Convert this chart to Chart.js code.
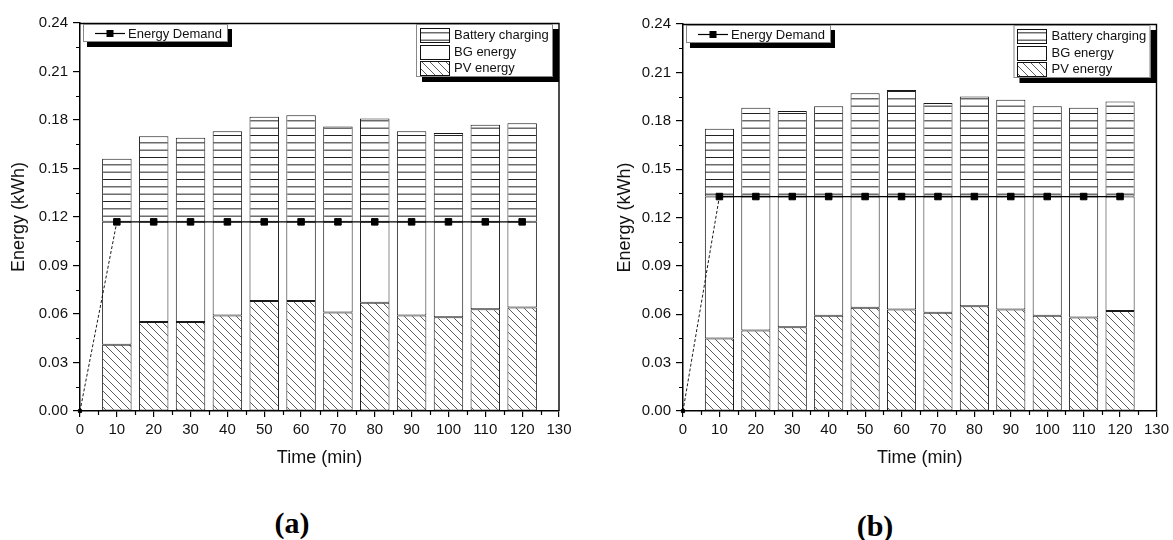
<!DOCTYPE html>
<html>
<head>
<meta charset="utf-8">
<script src="https://cdn.jsdelivr.net/npm/chart.js@4.4.1/dist/chart.umd.min.js"></script>
<style>
  html, body { margin: 0; padding: 0; background: #fff; width: 1173px; height: 540px; overflow: hidden; }
  .panel { position: absolute; top: 0; }
  #wrapA { left: 0; width: 580px; height: 480px; }
  #wrapB { left: 600px; width: 573px; height: 480px; }
  .tag { position: absolute; font: bold 30px "Liberation Serif", "Times New Roman", serif; color: #000;
         transform: translate(-50%, -50%); white-space: nowrap; }
</style>
</head>
<body>
<div class="panel" id="wrapA"><canvas id="chartA" width="580" height="480"></canvas></div>
<div class="panel" id="wrapB"><canvas id="chartB" width="573" height="480"></canvas></div>
<div class="tag" style="left:292px; top:523px;">(a)</div>
<div class="tag" style="left:875px; top:526px;">(b)</div>

<script>
// ---- data (time in min, energy in kWh) ----
const times = [10, 20, 30, 40, 50, 60, 70, 80, 90, 100, 110, 120];
const demandTimes = [0, 10, 20, 30, 40, 50, 60, 70, 80, 90, 100, 110, 120];

// panel (a)
const pvA     = [0.041, 0.055, 0.055, 0.059, 0.068, 0.068, 0.061, 0.067, 0.059, 0.058, 0.063, 0.064];
const totalA  = [0.156, 0.170, 0.169, 0.173, 0.182, 0.183, 0.176, 0.181, 0.173, 0.172, 0.177, 0.178];
const demandA = [0, 0.117, 0.117, 0.117, 0.117, 0.117, 0.117, 0.117, 0.117, 0.117, 0.117, 0.117, 0.117];

// panel (b)
const pvB     = [0.045, 0.050, 0.052, 0.059, 0.064, 0.063, 0.061, 0.065, 0.063, 0.059, 0.058, 0.062];
const totalB  = [0.175, 0.188, 0.186, 0.189, 0.197, 0.199, 0.191, 0.195, 0.193, 0.189, 0.188, 0.192];
const demandB = [0, 0.133, 0.133, 0.133, 0.133, 0.133, 0.133, 0.133, 0.133, 0.133, 0.133, 0.133, 0.133];

// axis ticks
const xTicks = [0, 10, 20, 30, 40, 50, 60, 70, 80, 90, 100, 110, 120, 130];
const xMinorTicks = [5, 15, 25, 35, 45, 55, 65, 75, 85, 95, 105, 115, 125];
const yTicks = [0, 0.03, 0.06, 0.09, 0.12, 0.15, 0.18, 0.21, 0.24];
const yTickLabels = ['0.00', '0.03', '0.06', '0.09', '0.12', '0.15', '0.18', '0.21', '0.24'];
const yMinorTicks = [0.015, 0.045, 0.075, 0.105, 0.135, 0.165, 0.195, 0.225];

const FONT = '"Liberation Sans", Arial, Helvetica, sans-serif';
const INK = '#111';

// fill patterns per canvas id
const fillsById = {};

function hatchPattern(ctx) {
  const s = 8;
  const t = document.createElement('canvas');
  t.width = s; t.height = s;
  const c = t.getContext('2d');
  c.fillStyle = '#fff'; c.fillRect(0, 0, s, s);
  c.strokeStyle = '#4a4a4a'; c.lineWidth = 0.9;
  c.beginPath();
  c.moveTo(0, 0); c.lineTo(s, s);
  c.moveTo(-1, s - 1); c.lineTo(1, s + 1);
  c.moveTo(s - 1, -1); c.lineTo(s + 1, 1);
  c.stroke();
  return ctx.createPattern(t, 'repeat');
}
function stripePattern(ctx) {
  const h = 22;
  const t = document.createElement('canvas');
  t.width = 4; t.height = h;
  const c = t.getContext('2d');
  c.fillStyle = '#fff'; c.fillRect(0, 0, 4, h);
  c.strokeStyle = '#222'; c.lineWidth = 1;
  [3.5, 10.83, 18.17].forEach(y => { c.beginPath(); c.moveTo(0, y); c.lineTo(4, y); c.stroke(); });
  return ctx.createPattern(t, 'repeat');
}

// ---- frame, minor ticks and the two legend boxes ----
const decor = {
  id: 'decor',
  afterDraw(chart) {
    const { ctx, chartArea: ca, scales: { x, y } } = chart;
    const fills = fillsById[chart.canvas.id];
    ctx.save();
    // top and right frame
    ctx.strokeStyle = '#000'; ctx.lineWidth = 1.4;
    ctx.beginPath();
    ctx.moveTo(ca.left, ca.top + 0.5); ctx.lineTo(ca.right, ca.top + 0.5);
    ctx.lineTo(ca.right, ca.bottom);
    ctx.stroke();
    // minor ticks
    ctx.lineWidth = 1.2;
    ctx.beginPath();
    xMinorTicks.forEach(v => {
      const px = Math.round(x.getPixelForValue(v)) + 0.5;
      ctx.moveTo(px, ca.bottom); ctx.lineTo(px, ca.bottom + 4);
    });
    yMinorTicks.forEach(v => {
      const py = Math.round(y.getPixelForValue(v)) + 0.5;
      ctx.moveTo(ca.left, py); ctx.lineTo(ca.left - 4, py);
    });
    ctx.stroke();

    // legend: Energy Demand
    const l1x = ca.left + 3, l1y = ca.top + 1, l1w = 145, l1h = 18;
    ctx.fillStyle = '#000';
    ctx.fillRect(l1x + 4, l1y + 5, l1w, l1h);
    ctx.fillStyle = '#fff';
    ctx.fillRect(l1x, l1y, l1w, l1h);
    ctx.strokeStyle = '#888'; ctx.lineWidth = 1;
    ctx.strokeRect(l1x + 0.5, l1y + 0.5, l1w - 1, l1h - 1);
    const cy = l1y + 9.5;
    ctx.strokeStyle = '#000'; ctx.lineWidth = 1.2;
    ctx.beginPath(); ctx.moveTo(l1x + 12, cy); ctx.lineTo(l1x + 42, cy); ctx.stroke();
    ctx.fillStyle = '#000';
    ctx.fillRect(l1x + 23.5, cy - 3.5, 7, 7);
    ctx.fillStyle = INK;
    ctx.font = '13px ' + FONT;
    ctx.textBaseline = 'middle'; ctx.textAlign = 'left';
    ctx.fillText('Energy Demand', l1x + 45, cy + 0.5);

    // legend: energy sources
    const l2w = 137, l2h = 53;
    const l2x = ca.right - 143, l2y = ca.top + 1;
    ctx.fillStyle = '#000';
    ctx.fillRect(l2x + 6, l2y + 5, l2w, l2h);
    ctx.fillStyle = '#fff';
    ctx.fillRect(l2x, l2y, l2w, l2h);
    ctx.strokeStyle = '#888'; ctx.lineWidth = 1;
    ctx.strokeRect(l2x + 0.5, l2y + 0.5, l2w - 1, l2h - 1);
    const items = [
      ['Battery charging', fills ? fills.battery : '#fff'],
      ['BG energy', '#fff'],
      ['PV energy', fills ? fills.pv : '#fff']
    ];
    items.forEach((it, i) => {
      const sy = Math.round(l2y + 4 + i * 16.5);
      ctx.fillStyle = it[1];
      ctx.fillRect(l2x + 4, sy, 29, 15);
      ctx.strokeStyle = '#111'; ctx.lineWidth = 1;
      ctx.strokeRect(Math.round(l2x + 4) + 0.5, sy + 0.5, 29, 14);
      ctx.fillStyle = INK;
      ctx.fillText(it[0], l2x + 38, sy + 7.5);
    });
    ctx.restore();
  }
};

function buildChart(id, pv, total, demand, geo) {
  const canvas = document.getElementById(id);
  const ctx = canvas.getContext('2d');
  const fills = { pv: hatchPattern(ctx), battery: stripePattern(ctx) };
  fillsById[id] = fills;
  const bg = pv.map((p, i) => demand[i + 1] - p);
  const battery = total.map((t, i) => t - demand[i + 1]);
  const barStyle = {
    type: 'bar', stack: 'energy', order: 1,
    borderColor: '#1a1a1a', borderWidth: 1, borderSkipped: false,
    categoryPercentage: 1.0, barPercentage: 0.8
  };

  return new Chart(ctx, {
    data: {
      datasets: [
        Object.assign({ label: 'PV energy', backgroundColor: fills.pv,
          data: times.map((t, i) => ({ x: t, y: pv[i] })) }, barStyle),
        Object.assign({ label: 'BG energy', backgroundColor: '#fff',
          data: times.map((t, i) => ({ x: t, y: bg[i] })) }, barStyle),
        Object.assign({ label: 'Battery charging', backgroundColor: fills.battery,
          data: times.map((t, i) => ({ x: t, y: battery[i] })) }, barStyle),
        {
          type: 'line', label: 'Energy Demand', stack: 'demand', order: 0,
          data: demandTimes.map((t, i) => ({ x: t, y: demand[i] })),
          borderColor: '#000', borderWidth: 1.2, tension: 0, fill: false,
          pointStyle: 'rect',
          pointRadius: c => (c.dataIndex === 0 ? 2.2 : 4.6),
          pointBackgroundColor: '#000', pointBorderColor: '#000', pointBorderWidth: 1,
          segment: {
            borderDash: c => (c.p0DataIndex === 0 ? [3, 2] : undefined),
            borderWidth: c => (c.p0DataIndex === 0 ? 0.9 : undefined)
          },
          clip: false
        }
      ]
    },
    options: {
      responsive: false,
      devicePixelRatio: 1,
      animation: false,
      layout: { padding: { left: 0, top: geo.top, right: geo.right, bottom: 0 } },
      plugins: { legend: { display: false }, tooltip: { enabled: false } },
      scales: {
        x: {
          type: 'linear', min: 0, max: 130, stacked: true, offset: false,
          afterBuildTicks: s => { s.ticks = xTicks.map(v => ({ value: v })); },
          afterFit: s => { s.height = geo.xH; },
          ticks: { autoSkip: false, maxRotation: 0, padding: 4, color: INK,
                   font: { family: FONT, size: 15 } },
          grid: { offset: false, drawOnChartArea: false, tickLength: 6, color: '#000', lineWidth: 1.2 },
          border: { color: '#000', width: 1.5 },
          title: { display: true, text: 'Time (min)', color: INK,
                   font: { family: FONT, size: 18 }, padding: { top: 0, bottom: 11 } }
        },
        y: {
          type: 'linear', min: 0, max: 0.24, stacked: true,
          afterBuildTicks: s => { s.ticks = yTicks.map(v => ({ value: v })); },
          afterFit: s => { s.width = geo.yW; },
          ticks: { callback: (v, i) => yTickLabels[i], padding: 5, color: INK,
                   font: { family: FONT, size: 15 } },
          grid: { drawOnChartArea: false, tickLength: 7, color: '#000', lineWidth: 1.2 },
          border: { color: '#000', width: 1.5 },
          title: { display: true, text: 'Energy (kWh)', color: INK,
                   font: { family: FONT, size: 18 }, padding: { top: geo.yTitlePad, bottom: 0 } }
        }
      }
    },
    plugins: [decor]
  });
}

buildChart('chartA', pvA, totalA, demandA, { top: 23, right: 21, yW: 80, xH: 69, yTitlePad: 8.2 });
buildChart('chartB', pvB, totalB, demandB, { top: 24, right: 15, yW: 83, xH: 69, yTitlePad: 14.2 });
</script>
</body>
</html>
